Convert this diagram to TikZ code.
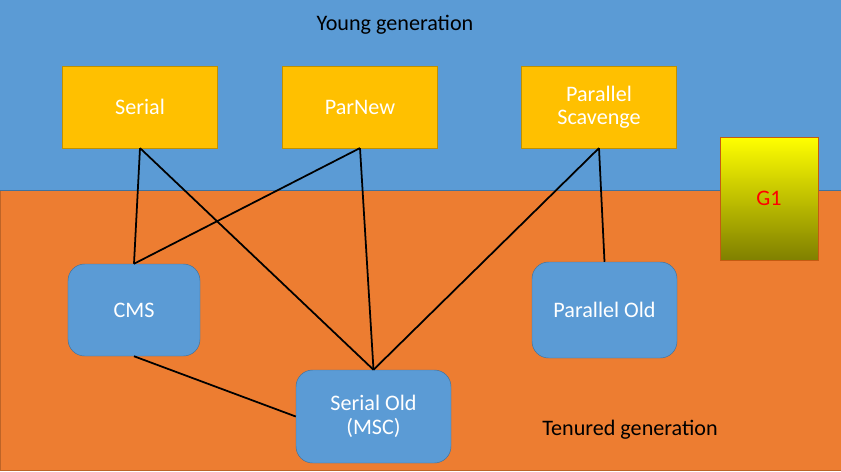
\documentclass[tikz,border=0pt]{standalone}
\usepackage{fontspec}
\setmainfont{Carlito}
\usepackage{xcolor}
\definecolor{younggen}{HTML}{5B9BD5}
\definecolor{tenuredgen}{HTML}{ED7D31}
\definecolor{youngbox}{HTML}{FFC000}
\definecolor{youngedge}{HTML}{BF9000}
\definecolor{oldedge}{HTML}{41719C}
\definecolor{gedge}{HTML}{C55A11}

\begin{document}
\begin{tikzpicture}[
    x=0.03cm, y=-0.03cm,
    every node/.style={font=\fontsize{18.9}{22}\selectfont, align=center},
    youngcoll/.style={draw=youngedge, fill=youngbox, text=white, rectangle,
        minimum width=4.65cm, minimum height=2.45cm, inner sep=0pt},
    oldcoll/.style={draw=oldedge, fill=younggen, text=white, rectangle,
        rounded corners=0.5cm, inner sep=0pt},
    link/.style={black, line width=1.5pt}
]
% background bands
\useasboundingbox (0,0) rectangle (841,471);
\fill[younggen] (0,0) rectangle (841,190);
\draw[tenuredgen!80!black, fill=tenuredgen] (0,190) rectangle (841,470);
\draw[oldedge, line width=0.6pt] (0,190) -- (841,190);

\node (younglabel) at (395,25) {Young generation};
\node (tenuredlabel) at (630,430) {Tenured generation};

% young collectors
\node[youngcoll] (serial) at (140,107) {Serial};
\node[youngcoll] (parnew) at (360,107) {ParNew};
\node[youngcoll] (scavenge) at (599,107) {Parallel\\[-2pt]Scavenge};

% tenured collectors
\node[oldcoll, minimum width=3.96cm, minimum height=2.76cm] (cms) at (134,310) {CMS};
\node[oldcoll, minimum width=4.35cm, minimum height=2.88cm] (parold) at (604.5,310) {Parallel Old};
\node[oldcoll, minimum width=4.65cm, minimum height=2.79cm] (serialold) at (373.5,416.5) {Serial Old\\[-2pt](MSC)};

% G1
\node[draw=gedge, top color=yellow, bottom color=yellow!50!black, text=red,
      minimum width=2.94cm, minimum height=3.69cm, inner sep=0pt] (gone) at (769,198.5) {G1};

% combinations
\draw[link] (serial.south) -- (cms.north);
\draw[link] (serial.south) -- (serialold.north);
\draw[link] (parnew.south) -- (cms.north);
\draw[link] (parnew.south) -- (serialold.north);
\draw[link] (scavenge.south) -- (serialold.north);
\draw[link] (scavenge.south) -- (parold.north);
\draw[link] (cms.south) -- (serialold.west);
\end{tikzpicture}
\end{document}
